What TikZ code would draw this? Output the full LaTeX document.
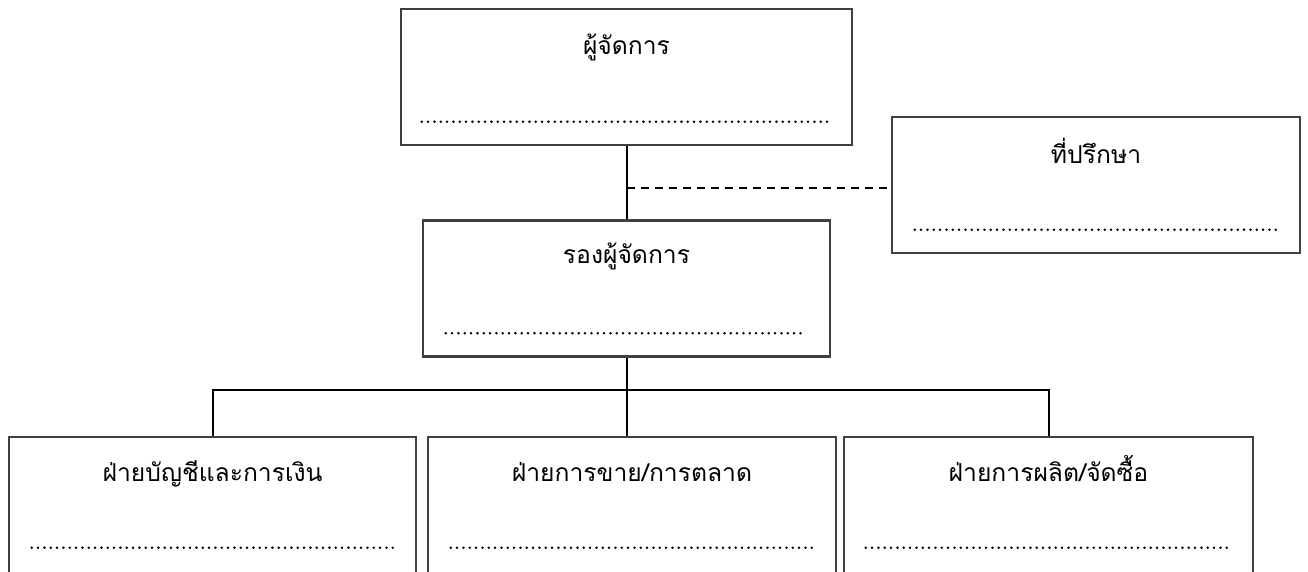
\documentclass[tikz,border=0pt]{standalone}
\usepackage{fontspec}
\newfontfamily\thaifont[Script=Thai]{Loma}
\definecolor{boxgray}{HTML}{404040}

\begin{document}
\begin{tikzpicture}[x=0.75pt, y=-0.75pt,
  box/.style={draw=boxgray, line width=1.9pt, minimum height=102pt, inner sep=0pt},
  title/.style={font=\thaifont\fontsize{18.5}{22}\selectfont, anchor=base, inner sep=0pt},
  leader/.style={line width=2.1pt, line cap=round, dash pattern=on 0pt off 4.75pt},
  link/.style={line width=1.5pt},
  advice/.style={line width=1.5pt, dash pattern=on 6pt off 4.5pt}]
\clip (0,0) rectangle (1308,571);
\fill[white] (0,0) rectangle (1308,571);

\node[box, minimum width=338.25pt] (1) at (626.5,77) {};
\node[box, minimum width=306pt] (2) at (1096,185) {};
\node[box, minimum width=305.25pt] (3) at (626.5,288.5) {};
\node[box, minimum width=305.25pt] (4) at (212.5,505) {};
\node[box, minimum width=306pt] (5) at (632,505) {};
\node[box, minimum width=306.75pt] (6) at (1048.5,505) {};

\node[title] (1t) at ([yshift=-35pt]1.north) {ผู้จัดการ};
\node[title] (2t) at ([yshift=-35.5pt]2.north) {ที่ปรึกษา};
\node[title] (3t) at ([yshift=-33.5pt]3.north) {รองผู้จัดการ};
\node[title] (4t) at ([yshift=-34pt]4.north) {ฝ่ายบัญชีและการเงิน};
\node[title] (5t) at ([yshift=-34pt]5.north) {ฝ่ายการขาย/การตลาด};
\node[title] (6t) at ([yshift=-34pt]6.north) {ฝ่ายการผลิต/จัดซื้อ};

\path[draw,leader] ([xshift=16.5pt,yshift=-85.5pt]1.north west) -- ([xshift=-18pt,yshift=-85.5pt]1.north east);
\path[draw,leader] ([xshift=18pt,yshift=-85.5pt]2.north west) -- ([xshift=-17.25pt,yshift=-85.5pt]2.north east);
\path[draw,leader] ([xshift=18pt,yshift=-85.5pt]3.north west) -- ([xshift=-18.75pt,yshift=-85.5pt]3.north east);
\path[draw,leader] ([xshift=18pt,yshift=-84pt]4.north west) -- ([xshift=-18pt,yshift=-84pt]4.north east);
\path[draw,leader] ([xshift=18pt,yshift=-84pt]5.north west) -- ([xshift=-18pt,yshift=-84pt]5.north east);
\path[draw,leader] ([xshift=17.25pt,yshift=-84pt]6.north west) -- ([xshift=-19.5pt,yshift=-84pt]6.north east);

\coordinate (bus) at (626.5,390);
\coordinate (tap) at (626.5,188);
\path[draw,link] (1) -- (3);
\path[draw,advice] (tap) -- (tap -| 2.west);
\path[draw,link] (3.south) -- (3.south |- 5.north);
\path[draw,link] (4.north) |- (bus) -| (6.north);
\end{tikzpicture}
\end{document}
